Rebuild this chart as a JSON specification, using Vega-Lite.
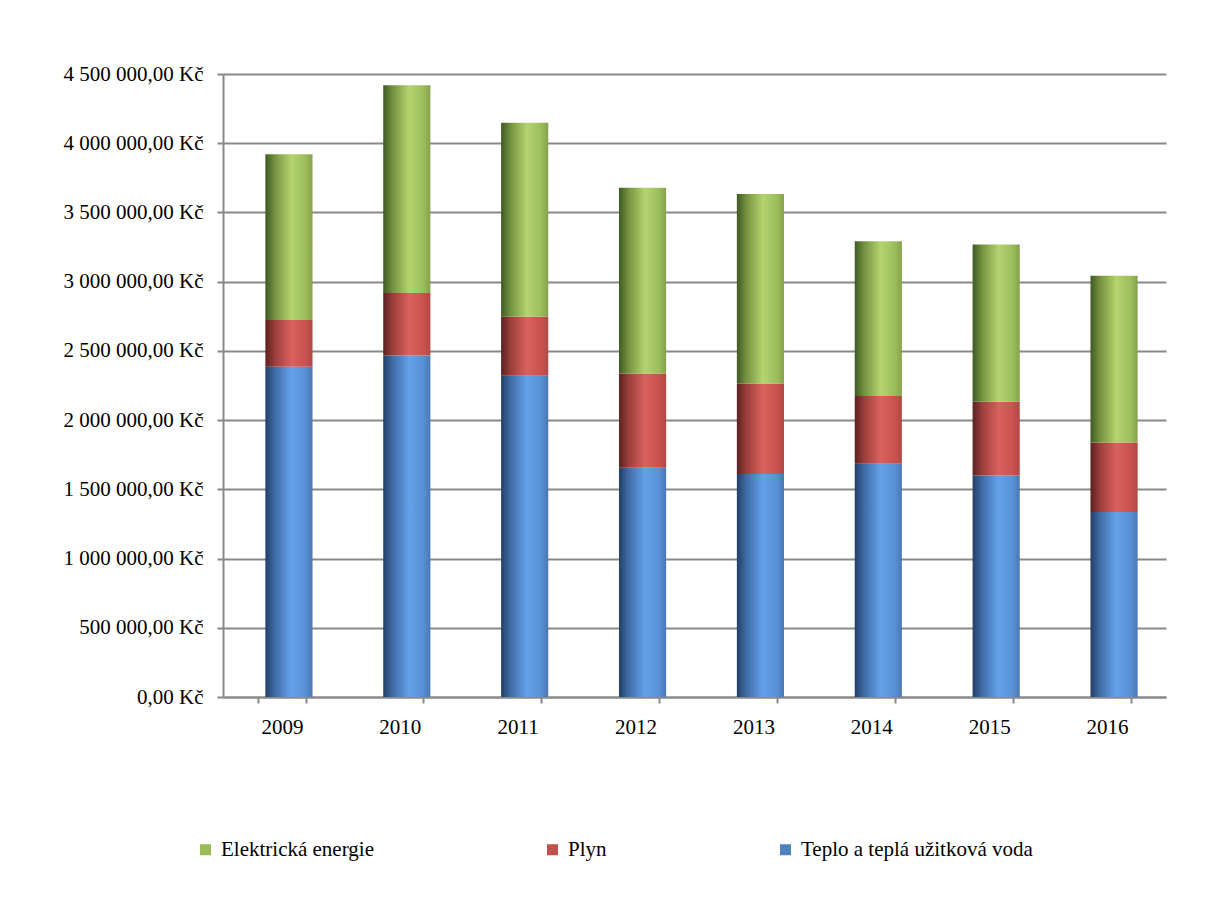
{
  "$schema": "https://vega.github.io/schema/vega-lite/v6.json",
  "width": 943,
  "height": 623,
  "autosize": {"type": "none"},
  "padding": {"left": 223, "top": 74, "right": 48, "bottom": 208},
  "background": "white",
  "config": {
    "locale": {"number": {"decimal": ",", "thousands": " ", "grouping": [3], "currency": ["", " Kč"]}},
    "view": {"stroke": null},
    "font": "Liberation Serif"
  },
  "data": {
    "values": [
      {"rok": "2009", "serie": "Teplo a teplá užitková voda", "hodnota": 2386000},
      {"rok": "2009", "serie": "Plyn", "hodnota": 337000},
      {"rok": "2009", "serie": "Elektrická energie", "hodnota": 1198000},
      {"rok": "2010", "serie": "Teplo a teplá užitková voda", "hodnota": 2467000},
      {"rok": "2010", "serie": "Plyn", "hodnota": 452000},
      {"rok": "2010", "serie": "Elektrická energie", "hodnota": 1500000},
      {"rok": "2011", "serie": "Teplo a teplá užitková voda", "hodnota": 2320000},
      {"rok": "2011", "serie": "Plyn", "hodnota": 426000},
      {"rok": "2011", "serie": "Elektrická energie", "hodnota": 1401000},
      {"rok": "2012", "serie": "Teplo a teplá užitková voda", "hodnota": 1655000},
      {"rok": "2012", "serie": "Plyn", "hodnota": 682000},
      {"rok": "2012", "serie": "Elektrická energie", "hodnota": 1341000},
      {"rok": "2013", "serie": "Teplo a teplá užitková voda", "hodnota": 1611000},
      {"rok": "2013", "serie": "Plyn", "hodnota": 653000},
      {"rok": "2013", "serie": "Elektrická energie", "hodnota": 1370000},
      {"rok": "2014", "serie": "Teplo a teplá užitková voda", "hodnota": 1685000},
      {"rok": "2014", "serie": "Plyn", "hodnota": 489000},
      {"rok": "2014", "serie": "Elektrická energie", "hodnota": 1118000},
      {"rok": "2015", "serie": "Teplo a teplá užitková voda", "hodnota": 1600000},
      {"rok": "2015", "serie": "Plyn", "hodnota": 532000},
      {"rok": "2015", "serie": "Elektrická energie", "hodnota": 1136000},
      {"rok": "2016", "serie": "Teplo a teplá užitková voda", "hodnota": 1336000},
      {"rok": "2016", "serie": "Plyn", "hodnota": 503000},
      {"rok": "2016", "serie": "Elektrická energie", "hodnota": 1204000}
    ]
  },
  "mark": {"type": "bar", "xOffset": 7},
  "encoding": {
    "x": {
      "field": "rok",
      "type": "ordinal",
      "scale": {"paddingInner": 0.6, "paddingOuter": 0.3},
      "axis": {
        "title": null,
        "labelAngle": 0,
        "labelFontSize": 21,
        "labelColor": "black",
        "labelPadding": 13,
        "domainColor": "#898989",
        "domainWidth": 2,
        "tickColor": "#898989",
        "tickWidth": 2,
        "tickSize": 6,
        "tickBand": "extent"
      }
    },
    "y": {
      "field": "hodnota",
      "type": "quantitative",
      "stack": "zero",
      "scale": {"domain": [0, 4500000], "nice": false},
      "axis": {
        "title": null,
        "values": [0, 500000, 1000000, 1500000, 2000000, 2500000, 3000000, 3500000, 4000000, 4500000],
        "format": "$,.2f",
        "labelFontSize": 21,
        "labelColor": "black",
        "labelPadding": 14,
        "domainColor": "#898989",
        "domainWidth": 2,
        "tickColor": "#898989",
        "tickWidth": 2,
        "tickSize": 6,
        "gridColor": "#898989",
        "gridWidth": 2
      }
    },
    "order": {"field": "serie", "sort": "descending"},
    "color": {
      "condition": [
        {"test": "datum.serie === 'Elektrická energie'", "value": {"gradient": "linear", "x1": 0, "x2": 1, "y1": 0, "y2": 0, "stops": [
            {"offset": 0, "color": "#3e5a24"}, {"offset": 0.2, "color": "#74923f"}, {"offset": 0.55, "color": "#b3d46f"}, {"offset": 0.85, "color": "#9cbd5c"}, {"offset": 1, "color": "#84a24c"}]}},
        {"test": "datum.serie === 'Plyn'", "value": {"gradient": "linear", "x1": 0, "x2": 1, "y1": 0, "y2": 0, "stops": [
            {"offset": 0, "color": "#5a2120"}, {"offset": 0.2, "color": "#9c3e3c"}, {"offset": 0.55, "color": "#d9615e"}, {"offset": 0.85, "color": "#c9524f"}, {"offset": 1, "color": "#b04845"}]}},
        {"test": "datum.serie === 'Teplo a teplá užitková voda'", "value": {"gradient": "linear", "x1": 0, "x2": 1, "y1": 0, "y2": 0, "stops": [
            {"offset": 0, "color": "#233f66"}, {"offset": 0.2, "color": "#3f6ca6"}, {"offset": 0.55, "color": "#64a1ea"}, {"offset": 0.85, "color": "#5990d4"}, {"offset": 1, "color": "#4978b4"}]}}
      ],
      "field": "serie",
      "type": "nominal",
      "scale": {
        "domain": ["Elektrická energie", "Plyn", "Teplo a teplá užitková voda"],
        "range": ["#9BBB59", "#C0504D", "#4F81BD"]
      },
      "legend": {
        "title": null,
        "orient": "none",
        "legendX": -28,
        "legendY": 765,
        "direction": "horizontal",
        "symbolType": "square",
        "symbolSize": 121,
        "symbolStrokeWidth": 0,
        "labelFontSize": 21,
        "labelColor": "black",
        "labelOffset": 5,
        "columnPadding": 168,
        "labelLimit": 400
      }
    }
  }
}
